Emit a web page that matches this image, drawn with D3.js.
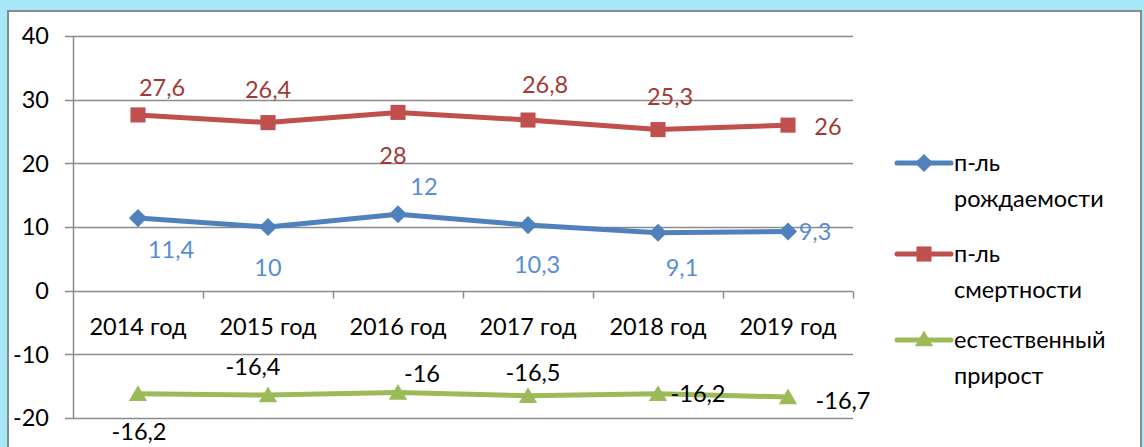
<!DOCTYPE html>
<html>
<head>
<meta charset="utf-8">
<script src="https://cdn.jsdelivr.net/npm/d3@7"></script>
<style>
  html, body { margin: 0; padding: 0; background: #a6e8f8; }
  #chart { width: 1144px; height: 447px; }
</style>
</head>
<body>
<div id="chart"></div>
<script>
// Data
const years = ["2014 год", "2015 год", "2016 год", "2017 год", "2018 год", "2019 год"];
const birthRate = [11.4, 10, 12, 10.3, 9.1, 9.3];
const deathRate = [27.6, 26.4, 28, 26.8, 25.3, 26];
const naturalGrowth = [-16.2, -16.4, -16, -16.5, -16.2, -16.7];
const yTicks = [-20, -10, 0, 10, 20, 30, 40];

// label offsets (px) relative to marker, as placed in the original
const birthLabelPos = [[33, 32], [0, 41], [26, -27], [9, 40], [24, 35], [27, 0]];
const deathLabelPos = [[24, -27], [0, -33], [-5, 43], [17, -35], [12, -33], [40, 2]];
const growthLabelPos = [[1, 38], [-15, -28], [24, -19], [5, -23], [40, 0], [55, 4]];

const font_family = "Lato, 'Open Sans', sans-serif";
const font_size = 23.5;
const gridColor = "#8c8c8c";

const width = 1144, height = 447;
const svg = d3.select("#chart").append("svg")
    .attr("width", width)
    .attr("height", height);

// chart frame
svg.append("rect")
    .attr("x", 8).attr("y", 11)
    .attr("width", 1133).attr("height", 460)
    .attr("fill", "#fff")
    .attr("stroke", "#8a8a8a")
    .attr("stroke-width", 2);

const plot = { left: 73, right: 853, top: 36, bottom: 418 };

const x = d3.scaleBand()
    .domain(years)
    .range([plot.left, plot.right])
    .padding(0);

const y = d3.scaleLinear()
    .domain([-20, 40])
    .range([plot.bottom, plot.top]);

// gridlines + y ticks
const grid = svg.append("g").attr("class", "grid");
grid.selectAll("line")
    .data(yTicks)
    .join("line")
    .attr("x1", plot.left - 8)
    .attr("x2", plot.right)
    .attr("y1", d => Math.round(y(d)) + 0.5)
    .attr("y2", d => Math.round(y(d)) + 0.5)
    .attr("stroke", gridColor)
    .attr("stroke-width", 1.5);

// y axis line
svg.append("line")
    .attr("x1", plot.left + 0.5).attr("x2", plot.left + 0.5)
    .attr("y1", plot.top).attr("y2", plot.bottom + 1)
    .attr("stroke", gridColor)
    .attr("stroke-width", 1.5);

// y tick labels
svg.append("g").selectAll("text")
    .data(yTicks)
    .join("text")
    .attr("x", 49)
    .attr("y", d => y(d))
    .attr("dy", "0.35em")
    .attr("text-anchor", "end")
    .attr("font-family", font_family)
    .attr("font-size", font_size)
    .attr("fill", "#000")
    .text(d => d);

// category axis at zero
const zeroY = Math.round(y(0)) + 0.5;
const catTicks = years.map(d => x(d)).concat([x(years[years.length - 1]) + x.bandwidth()]);
svg.append("g").selectAll("line")
    .data(catTicks.slice(1))
    .join("line")
    .attr("x1", d => d + 0.5).attr("x2", d => d + 0.5)
    .attr("y1", zeroY).attr("y2", zeroY + 7)
    .attr("stroke", gridColor)
    .attr("stroke-width", 1.5);

svg.append("g").selectAll("text")
    .data(years)
    .join("text")
    .attr("x", d => x(d) + x.bandwidth() / 2)
    .attr("y", y(0) + 36)
    .attr("dy", "0.35em")
    .attr("text-anchor", "middle")
    .attr("font-family", font_family)
    .attr("font-size", font_size)
    .attr("fill", "#000")
    .text(d => d);

// series
const series = [
    { name: ["п-ль", "рождаемости"], values: birthRate, color: "#4f81bd", labelColor: "#558ed5", marker: "diamond", labelPos: birthLabelPos },
    { name: ["п-ль", "смертности"], values: deathRate, color: "#c0504d", labelColor: "#a03a37", marker: "square", labelPos: deathLabelPos },
    { name: ["естественный", "прирост"], values: naturalGrowth, color: "#9bbb59", labelColor: "#000", marker: "triangle", labelPos: growthLabelPos }
];

const symbolFor = {
    diamond: d3.symbol().type(d3.symbolDiamond2).size(210),
    square: d3.symbol().type(d3.symbolSquare2).size(290),
    triangle: d3.symbol().type(d3.symbolTriangle2).size(240)
};

const cx = (i) => x(years[i]) + x.bandwidth() / 2;

const line = d3.line()
    .x((d, i) => cx(i))
    .y(d => y(d));

series.forEach(s => {
    const g = svg.append("g");
    g.append("path")
        .datum(s.values)
        .attr("fill", "none")
        .attr("stroke", s.color)
        .attr("stroke-width", 5)
        .attr("stroke-linejoin", "round")
        .attr("d", line);

    g.selectAll("path.marker")
        .data(s.values)
        .join("path")
        .attr("class", "marker")
        .attr("transform", (d, i) => `translate(${cx(i)},${y(d) + (s.marker === "triangle" ? 2 : 0)})`)
        .attr("d", symbolFor[s.marker])
        .attr("fill", s.color);

    g.selectAll("text")
        .data(s.values)
        .join("text")
        .attr("x", (d, i) => cx(i) + s.labelPos[i][0])
        .attr("y", (d, i) => y(d) + s.labelPos[i][1])
        .attr("dy", "0.35em")
        .attr("text-anchor", "middle")
        .attr("font-family", font_family)
        .attr("font-size", font_size)
        .attr("fill", s.labelColor)
        .text(d => String(d).replace(".", ","));
});

// Legend
const legend = svg.append("g").attr("transform", "translate(897, 163)");
const legendItems = legend.selectAll("g")
    .data(series)
    .join("g")
    .attr("transform", (d, i) => `translate(0, ${[0, 91, 177][i]})`);

legendItems.append("line")
    .attr("x1", 0).attr("x2", 54)
    .attr("y1", 0).attr("y2", 0)
    .attr("stroke", d => d.color)
    .attr("stroke-width", 5)
    .attr("stroke-linecap", "round");

legendItems.append("path")
    .attr("transform", d => `translate(27,${d.marker === "triangle" ? 1 : 0})`)
    .attr("d", d => symbolFor[d.marker](d))
    .attr("fill", d => d.color);

legendItems.each(function (d) {
    const t = d3.select(this).append("text")
        .attr("x", 57)
        .attr("y", 0)
        .attr("font-family", font_family)
        .attr("font-size", font_size)
        .attr("fill", "#000");
    d.name.forEach((txt, i) => {
        t.append("tspan")
            .attr("x", 57)
            .attr("y", i * 36)
            .attr("dy", "0.35em")
            .text(txt);
    });
});
</script>
</body>
</html>
